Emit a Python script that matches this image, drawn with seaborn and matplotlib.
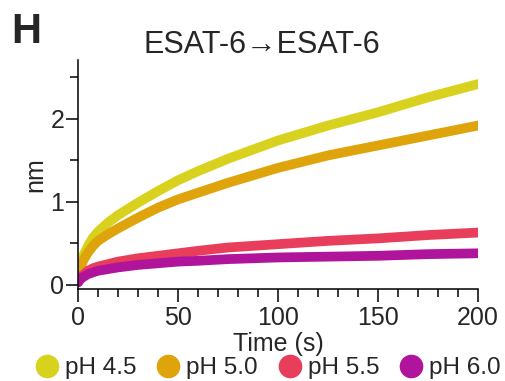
import pandas as pd
import seaborn as sns
import matplotlib.pyplot as plt
from matplotlib.lines import Line2D
from matplotlib.ticker import MultipleLocator

# values
time_s = [0, 1, 2, 3, 5, 7.5, 10, 15, 20, 30, 40, 50, 60, 75, 100, 125, 150, 175, 200]
ph_45 = [0.04, 0.20, 0.30, 0.37, 0.47, 0.57, 0.64, 0.75, 0.84, 0.99, 1.13, 1.26, 1.37, 1.52, 1.74, 1.92, 2.08, 2.26, 2.42]
ph_50 = [0.04, 0.18, 0.26, 0.31, 0.39, 0.47, 0.53, 0.61, 0.68, 0.81, 0.93, 1.03, 1.11, 1.23, 1.41, 1.56, 1.68, 1.80, 1.92]
ph_55 = [0.03, 0.08, 0.11, 0.13, 0.17, 0.20, 0.22, 0.25, 0.28, 0.32, 0.35, 0.38, 0.41, 0.45, 0.49, 0.53, 0.56, 0.60, 0.63]
ph_60 = [0.03, 0.06, 0.09, 0.10, 0.13, 0.15, 0.17, 0.19, 0.21, 0.24, 0.26, 0.28, 0.29, 0.31, 0.33, 0.34, 0.35, 0.37, 0.38]
labels = ['pH 4.5', 'pH 5.0', 'pH 5.5', 'pH 6.0']
colors = ['#d8d21e', '#dfa30c', '#e83e5c', '#b0149a']

frames = []
for lab, vals in zip(labels, [ph_45, ph_50, ph_55, ph_60]):
    frames.append(pd.DataFrame({'time': time_s, 'nm': vals, 'ph': lab}))
df = pd.concat(frames, ignore_index=True)

sns.set_style('ticks')
plt.rcParams['font.family'] = ['Liberation Sans', 'DejaVu Sans']

fig = plt.figure(figsize=(5.05, 3.81), dpi=100)
ax = fig.add_axes([0.1545, 0.2415, 0.792, 0.601])

sns.lineplot(data=df, x='time', y='nm', hue='ph', palette=colors, hue_order=labels,
             linewidth=7, legend=False, ax=ax, solid_capstyle='round', solid_joinstyle='round')

ax.set_xlim(0, 200)
ax.set_ylim(-0.05, 2.71)
ax.xaxis.set_major_locator(MultipleLocator(50))
ax.xaxis.set_minor_locator(MultipleLocator(10))
ax.yaxis.set_major_locator(MultipleLocator(1))
ax.yaxis.set_minor_locator(MultipleLocator(0.5))
ax.tick_params(axis='both', which='major', length=9, width=1.1, labelsize=18, color='black', pad=1)
ax.tick_params(axis='x', which='major', pad=3)
ax.tick_params(axis='both', which='minor', length=6, width=1.1, color='black')
sns.despine(ax=ax)
for s in ['left', 'bottom']:
    ax.spines[s].set_linewidth(1.1)
    ax.spines[s].set_color('black')

ax.set_xlabel('Time (s)', fontsize=18, labelpad=2)
ax.set_ylabel('nm', fontsize=18, labelpad=2)

fig.text(0.519, 0.882, 'ESAT-6\u2192ESAT-6', fontsize=22, ha='center', va='center')
fig.text(0.022, 0.968, 'H', fontsize=30, fontweight='bold', ha='left', va='top')

handles = [Line2D([], [], marker='o', linestyle='none', markersize=16, color=c) for c in colors]
fig.legend(handles, labels, loc='center', bbox_to_anchor=(0.53, 0.033), ncol=4, frameon=False,
           fontsize=17.5, handletextpad=0.25, columnspacing=0.8, handlelength=1.0, borderpad=0)

fig.savefig('out.png', dpi=100)
